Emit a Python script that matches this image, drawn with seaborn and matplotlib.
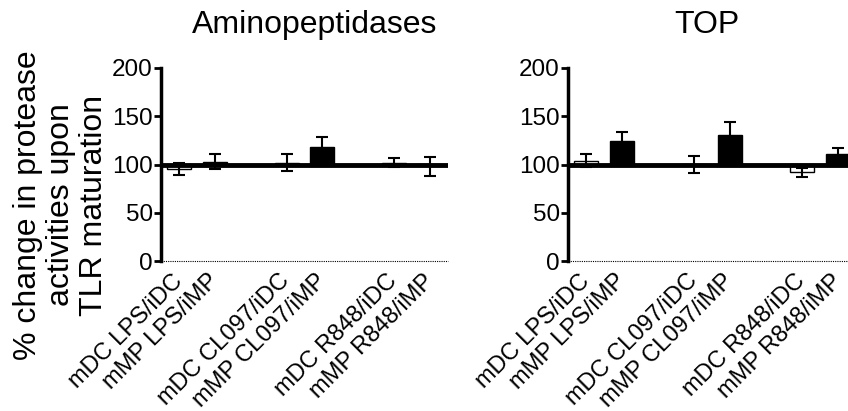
import matplotlib
matplotlib.use("Agg")
import matplotlib.pyplot as plt
import numpy as np
import pandas as pd
import seaborn as sns

sns.set_style("ticks")
plt.rcParams['font.family'] = ['Liberation Sans', 'DejaVu Sans']
plt.rcParams.update({"text.color": "black", "axes.edgecolor": "black",
                     "xtick.color": "black", "ytick.color": "black",
                     "axes.labelcolor": "black"})

# condition labels (one per bar), grouped in pairs by stimulus
conditions = ["mDC LPS/iDC", "mMP LPS/iMP",
              "mDC CL097/iDC", "mMP CL097/iMP",
              "mDC R848/iDC", "mMP R848/iMP"]
cell_type = ["mDC", "mMP", "mDC", "mMP", "mDC", "mMP"]
group_idx = [0, 0, 1, 1, 2, 2]
member_idx = [0, 1, 0, 1, 0, 1]

# % change values (mean, SEM)
amino_mean = [95.5, 103, 102, 118, 102, 98]
amino_err = [6.5, 8, 9, 10, 5, 10]
top_mean = [104, 124, 100, 131, 92, 111]
top_err = [7, 10, 9, 13, 4.5, 6.5]

titles = ["Aminopeptidases", "TOP"]
yticks = [0, 50, 100, 150, 200]
baseline = 100

pos = np.array(group_idx) * 3 + np.array(member_idx)

fig = plt.figure(figsize=(8.48, 4.11), dpi=100)
ax1 = fig.add_axes([161 / 848, 150 / 411, 287 / 848, 193 / 411])
ax2 = fig.add_axes([568 / 848, 150 / 411, 288 / 848, 193 / 411])

for ax, title, tx, mean, err in [(ax1, titles[0], 0.537, amino_mean, amino_err),
                                 (ax2, titles[1], 0.481, top_mean, top_err)]:
    df = pd.DataFrame({"pos": pos, "delta": np.array(mean) - baseline,
                       "cell": cell_type})
    sns.barplot(data=df, x="pos", y="delta", hue="cell", native_scale=True,
                dodge=False, width=0.67, saturation=1, legend=False,
                palette={"mDC": "white", "mMP": "black"},
                edgecolor="black", linewidth=1, bottom=baseline, ax=ax,
                errorbar=None)
    ax.axhline(baseline, color="black", lw=3.5, zorder=3)
    ax.errorbar(pos, mean, yerr=err, fmt="none", ecolor="black",
                elinewidth=1.5, capsize=4, capthick=1.5, zorder=4)
    ax.axhline(0, color="black", lw=0.8, ls=(0, (1, 1)), clip_on=False)

    ax.set_xlim(-0.5, 7.5)
    ax.set_ylim(0, 200)
    ax.set_yticks(yticks)
    ax.set_xticks(pos)
    ax.set_xticklabels(conditions, rotation=45, ha="right", va="center",
                       rotation_mode="anchor")
    ax.set_xlabel("")
    ax.set_ylabel("")
    ax.set_title(title, fontsize=23, pad=25, x=tx)

    for s in ["top", "right", "bottom"]:
        ax.spines[s].set_visible(False)
    ax.spines["left"].set_linewidth(2.5)
    ax.tick_params(axis="y", length=5, width=2, labelsize=17.5, pad=1)
    ax.tick_params(axis="x", length=0, labelsize=17, pad=12)

fig.text(61 / 848, 1 - 205 / 411,
         "% change in protease\nactivities upon\nTLR maturation",
         rotation=90, ha="center", va="center", multialignment="center",
         fontsize=23, linespacing=1.15)

fig.savefig("out.png", dpi=100, facecolor="white")
